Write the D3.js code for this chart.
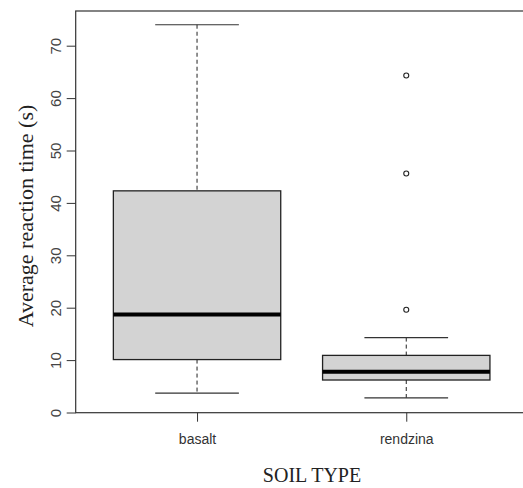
<!DOCTYPE html>
<html>
<head>
<meta charset="utf-8">
<script src="https://cdn.jsdelivr.net/npm/d3@7"></script>
<style>
  body { margin: 0; background: #fff; }
  svg { display: block; }
</style>
</head>
<body>
<div id="chart"></div>
<script>
// Box summaries
const categories = ["basalt", "rendzina"];
const whiskerLow = [3.7, 2.8];
const q1 = [10.1, 6.2];
const medians = [18.7, 7.8];
const q3 = [42.3, 10.9];
const whiskerHigh = [74.0, 14.3];
const outliers = [[], [19.6, 45.6, 64.3]];
const yTicks = [0, 10, 20, 30, 40, 50, 60, 70];

const W = 523, H = 488;
const plot = { left: 75.7, top: 11, right: 527.6, bottom: 412.7 };

const svg = d3.select("#chart").append("svg")
    .attr("width", W)
    .attr("height", H);

// R style scales: x positions 1..n with 0.5 padding + 4%
const x = d3.scaleLinear()
    .domain([0.42, categories.length + 0.58])
    .range([plot.left, plot.right]);

const y = d3.scaleLinear()
    .domain([0, 70])
    .range([412.5, 45.7]);

const unit = x(2) - x(1);
const boxW = unit * 0.8;
const capW = boxW * 0.5;
const lineCol = "#333";

// frame
svg.append("rect")
    .attr("x", plot.left)
    .attr("y", plot.top)
    .attr("width", plot.right - plot.left)
    .attr("height", plot.bottom - plot.top)
    .attr("fill", "none")
    .attr("stroke", lineCol)
    .attr("stroke-width", 1.2);

// y axis
const yAxis = svg.append("g")
    .attr("transform", `translate(${plot.left},0)`)
    .call(d3.axisLeft(y).tickValues(yTicks).tickSize(9).tickSizeOuter(0));
yAxis.select(".domain").remove();
yAxis.selectAll(".tick line").attr("stroke", lineCol);
yAxis.selectAll(".tick text")
    .attr("transform", "rotate(-90)")
    .attr("x", 0)
    .attr("y", -20)
    .attr("dy", "0.35em")
    .attr("text-anchor", "middle")
    .attr("fill", "#444")
    .style("font-family", "'Liberation Sans', Arial, sans-serif")
    .style("font-size", "15px");

// x axis
const xAxis = svg.append("g")
    .attr("transform", `translate(0,${plot.bottom})`)
    .call(d3.axisBottom(x)
        .tickValues(categories.map((_, i) => i + 1))
        .tickFormat((d) => categories[d - 1])
        .tickSize(9).tickSizeOuter(0));
xAxis.select(".domain").remove();
xAxis.selectAll(".tick line").attr("stroke", lineCol);
xAxis.selectAll(".tick text")
    .attr("y", 21)
    .attr("dy", "0.71em")
    .attr("fill", "#333")
    .style("font-family", "'Liberation Sans', Arial, sans-serif")
    .style("font-size", "14px");

// boxes
categories.forEach((cat, i) => {
    const cx = x(i + 1);
    const g = svg.append("g");

    // whiskers (dashed)
    g.append("line")
        .attr("x1", cx).attr("x2", cx)
        .attr("y1", y(whiskerHigh[i])).attr("y2", y(q3[i]))
        .attr("stroke", "#222").attr("stroke-dasharray", "4,3");
    g.append("line")
        .attr("x1", cx).attr("x2", cx)
        .attr("y1", y(q1[i])).attr("y2", y(whiskerLow[i]))
        .attr("stroke", "#222").attr("stroke-dasharray", "4,3");

    // staples
    [whiskerHigh[i], whiskerLow[i]].forEach((v) => {
        g.append("line")
            .attr("x1", cx - capW / 2).attr("x2", cx + capW / 2)
            .attr("y1", y(v)).attr("y2", y(v))
            .attr("stroke", lineCol).attr("stroke-width", 1.2);
    });

    // box
    g.append("rect")
        .attr("x", cx - boxW / 2)
        .attr("y", y(q3[i]))
        .attr("width", boxW)
        .attr("height", y(q1[i]) - y(q3[i]))
        .attr("fill", "#d3d3d3")
        .attr("stroke", "#222")
        .attr("stroke-width", 1.3);

    // median
    g.append("line")
        .attr("x1", cx - boxW / 2).attr("x2", cx + boxW / 2)
        .attr("y1", y(medians[i])).attr("y2", y(medians[i]))
        .attr("stroke", "#000").attr("stroke-width", 4);

    // outliers
    outliers[i].forEach((v) => {
        g.append("circle")
            .attr("cx", cx).attr("cy", y(v))
            .attr("r", 2.5)
            .attr("fill", "none")
            .attr("stroke", "#222")
            .attr("stroke-width", 1.1);
    });
});

// axis titles
svg.append("text")
    .attr("transform", `translate(33,216) rotate(-90)`)
    .attr("text-anchor", "middle")
    .attr("fill", "#222")
    .style("font-family", "'Liberation Serif', 'Times New Roman', serif")
    .style("font-size", "22px")
    .text("Average reaction time (s)");

svg.append("text")
    .attr("x", 312)
    .attr("y", 481.5)
    .attr("text-anchor", "middle")
    .attr("fill", "#222")
    .style("font-family", "'Liberation Serif', 'Times New Roman', serif")
    .style("font-size", "20px")
    .text("SOIL TYPE");
</script>
</body>
</html>
